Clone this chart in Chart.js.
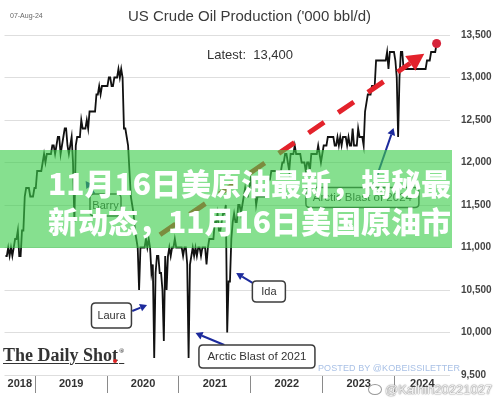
<!DOCTYPE html>
<html>
<head>
<meta charset="utf-8">
<script src="https://cdn.jsdelivr.net/npm/chart.js@4"></script>
<style>
  html, body { margin: 0; padding: 0; background: #fff; }
  #wrap { position: relative; width: 499px; height: 400px; overflow: hidden;
          font-family: 'Liberation Sans', Arial, sans-serif; }
  #chart { position: absolute; left: 0; top: 0; }
  .stamp { position: absolute; left: 10px; top: 12px; font-size: 7px; color: #666; }
  .title { position: absolute; left: 0; top: 7px; width: 499px; text-align: center;
           font-size: 15px; color: #3a3a3a; }
  .latest { position: absolute; left: 207px; top: 47px; font-size: 13px; color: #333; white-space: pre; }
  .logo { position: absolute; left: 3px; top: 342px; line-height: 18px;
          font-family: 'Liberation Serif', 'DejaVu Serif', serif; font-weight: bold; font-size: 18px;
          color: #333; text-decoration: underline; text-decoration-thickness: 1px; text-underline-offset: 2px; }
  .logo sup { font-size: 7px; text-decoration: none; vertical-align: 8px; margin-left: 1px; }
  .logo-dot { position: absolute; left: 113px; top: 359px; width: 4px; height: 4px; border-radius: 2px; background: #d22; }
  .posted { position: absolute; left: 318px; top: 363px; font-size: 9px; color: #a9c1e6; letter-spacing: 0.1px; }
  .mark { position: absolute; left: 368px; top: 382px; font-size: 13px; color: rgba(255,255,255,0.9);
          text-shadow: 0 0 1px #8a8a8a, 0 0 1px #8a8a8a, 0 0 2px #aaa; white-space: nowrap; }
  .mark .eye { display: inline-block; width: 12px; height: 9px; border: 1.5px solid #9a9a9a; border-radius: 50%;
               vertical-align: -1px; margin-right: 3px; background: rgba(255,255,255,0.8); }
  .banner { position: absolute; left: 0; top: 150px; width: 452px; height: 98px;
            background: rgba(60, 205, 75, 0.62); }
  .banner-text { position: absolute; left: 0; top: 163px; width: 499px; text-align: center; color: #fff;
                 font-family: 'Noto Sans CJK SC', sans-serif; font-weight: 900; font-size: 30px;
                 line-height: 38px; white-space: nowrap; }
</style>
</head>
<body>
<div id="wrap">
  <canvas id="chart" width="499" height="400"></canvas>
  <div class="stamp">07-Aug-24</div>
  <div class="title">US Crude Oil Production ('000 bbl/d)</div>
  <div class="latest" id="latest"></div>
  <div class="logo">The Daily Shot<sup>®</sup></div>
  <div class="logo-dot"></div>
  <div class="posted">POSTED BY @KOBEISSILETTER</div>
  <div class="mark"><span class="eye"></span>@Kaihin20221027</div>
  <div class="banner"></div>
  <div class="banner-text">11月16日美原油最新，揭秘最<br>新动态，11月16日美国原油市</div>
</div>
<script>
// Weekly US crude oil production, thousand barrels per day.
// Each yearly array starts on the week-ending date listed in seriesStart.
const seriesStart = ['2018-08-03', '2019-01-04', '2020-01-03', '2021-01-01', '2022-01-07', '2023-01-06', '2024-01-05'];

const weekly2018 = [10900, 10900, 11000, 10900, 11000, 10900, 11000, 11100, 11100, 11200, 10900,
                    10900, 11200, 11200, 11600, 11700, 11700, 11700, 11600, 11600, 11600, 11700];

const weekly2019 = [11700, 11900, 11900, 11900, 11900, 12000, 12100, 12000, 12100, 12100, 12100, 12100, 12200,
                    12200, 12100, 12200, 12300, 12300, 12100, 12200, 12300, 12400, 12400, 12200, 12100, 12200,
                    12300, 12000, 11300, 12200, 12300, 12300, 12300, 12500, 12400, 12400, 12400, 12500, 12400,
                    12600, 12600, 12600, 12600, 12600, 12800, 12800, 12900, 12800, 12900, 12900, 12900, 12900];

const weekly2020 = [12900, 13000, 13000, 12900, 12900, 13000, 13000, 13000, 13100, 13000, 13100, 13000, 12400,
                    12400, 12300, 12200, 11900, 11600, 11500, 11400, 11200, 11100, 11000, 10500, 11000, 11000,
                    11000, 11000, 11100, 11000, 11100, 11000, 10700, 10800, 9700, 10700, 10900, 10900, 10700,
                    10700, 10500, 9900, 10900, 10500, 10900, 11000, 10900, 11000, 11000, 11100, 11000, 11000];

const weekly2021 = [11000, 11000, 11000, 10900, 11000, 11000, 10800, 9700, 10800, 10900, 11000, 10900, 11000,
                    10900, 11000, 11000, 10900, 11000, 11000, 11000, 10800, 11000, 11100, 11100, 11100, 11100,
                    11300, 11300, 11400, 11200, 11200, 11300, 11400, 11400, 11500, 10000, 10600, 10600, 11100,
                    11300, 11400, 11300, 11300, 11500, 11500, 11400, 11500, 11600, 11700, 11600, 11600, 11700, 11800];

const weekly2022 = [11700, 11700, 11700, 11500, 11600, 11600, 11600, 11600, 11600, 11600, 11600, 11700, 11800,
                    11800, 11900, 11900, 11900, 11900, 11900, 11900, 11900, 11900, 12000, 12000, 12100, 12100,
                    12000, 11900, 12100, 12100, 12100, 12200, 12100, 12100, 12100, 12100, 12000, 12000, 12000,
                    11900, 12000, 12000, 11900, 12100, 12100, 12100, 12100, 12100, 12200, 12100, 12000, 12100];

const weekly2023 = [12200, 12200, 12200, 12300, 12300, 12300, 12300, 12300, 12200, 12200, 12300, 12200, 12300,
                    12200, 12300, 12300, 12300, 12200, 12300, 12200, 12200, 12400, 12200, 12200, 12200, 12400,
                    12300, 12300, 12300, 12200, 12600, 12700, 12800, 12800, 12800, 12900, 12900, 12900, 13200,
                    13200, 13200, 13200, 13200, 13200, 13200, 13200, 13300, 13100, 13300, 13300, 13300, 13300];

const weekly2024 = [13200, 13000, 12300, 13000, 13300, 13300, 13100, 13100, 13100, 13100, 13100, 13100, 13100,
                    13100, 13100, 13100, 13100, 13100, 13100, 13100, 13100, 13100, 13100, 13200, 13200, 13200,
                    13300, 13300, 13300, 13300, 13400];

const weeklyByYear = [weekly2018, weekly2019, weekly2020, weekly2021, weekly2022, weekly2023, weekly2024];

// Axis labels
const yearLabels = ['2018', '2019', '2020', '2021', '2022', '2023', '2024'];
const yTickValues = [9500, 10000, 10500, 11000, 11500, 12000, 12500, 13000, 13500];

// Trend arrow (decimal year, kb/d)
const trendFrom = [2020.736, 11150];
const trendTo = [2024.413, 13280];

// Event call-outs
const noteTexts = ['Barry', 'Laura', 'Arctic Blast of 2021', 'Ida', 'Arctic Blast of 2024'];

// Call-out placement in data units: box centre, box size in px, arrow tail -> head
const noteLayout = [
  { at: [2019.978, 11500], w: 31, h: 22, from: [2019.826, 11629], to: [2019.702, 11782] },
  { at: [2020.061, 10200], w: 40, h: 25, from: [2020.350, 10253], to: [2020.556, 10324] },
  { at: [2022.085, 9718],  w: 116, h: 23, from: [2021.631, 9853], to: [2021.231, 9994] },
  { at: [2022.251, 10482], w: 33, h: 21, from: [2022.030, 10582], to: [2021.796, 10700] },
  { at: [2023.552, 11588], w: 113, h: 20, from: [2023.697, 11700], to: [2023.986, 12406] }
];

// Visible time window (decimal years)
const X_MIN = 2018.573;
const X_MAX = 2024.771;

function decimalYear(y, m, d) {
  const t = Date.UTC(y, m, d);
  const dt = new Date(t);
  const yy = dt.getUTCFullYear();
  const a = Date.UTC(yy, 0, 1), b = Date.UTC(yy + 1, 0, 1);
  return yy + (t - a) / (b - a);
}

const points = [];
weeklyByYear.forEach((vals, k) => {
  const [y, m, d] = seriesStart[k].split('-').map(Number);
  vals.forEach((v, i) => points.push({ x: decimalYear(y, m - 1, d + 7 * i), y: v }));
});
const lastValue = points[points.length - 1].y;
document.getElementById('latest').textContent = 'Latest:  ' + lastValue.toLocaleString('en-US');

// Tick positions: year boundaries carry the separators, band centres carry the labels
const firstYear = Number(yearLabels[0]);
const xTickValues = [];
yearLabels.forEach(lab => {
  const yr = Number(lab);
  const lo = Math.max(yr, X_MIN), hi = Math.min(yr + 1, X_MAX);
  if (yr > firstYear) xTickValues.push(yr);
  xTickValues.push((lo + hi) / 2);
});

function arrow(ctx, a, b, head, half) {
  const ang = Math.atan2(b[1] - a[1], b[0] - a[0]);
  const base = [b[0] - head * Math.cos(ang), b[1] - head * Math.sin(ang)];
  ctx.beginPath();
  ctx.moveTo(a[0], a[1]);
  ctx.lineTo(base[0], base[1]);
  ctx.stroke();
  ctx.setLineDash([]);
  ctx.beginPath();
  ctx.moveTo(b[0], b[1]);
  ctx.lineTo(base[0] + half * Math.sin(ang), base[1] - half * Math.cos(ang));
  ctx.lineTo(base[0] - half * Math.sin(ang), base[1] + half * Math.cos(ang));
  ctx.closePath();
  ctx.fill();
}

function roundBox(ctx, x, y, w, h, r) {
  ctx.beginPath();
  ctx.moveTo(x + r, y);
  ctx.lineTo(x + w - r, y);
  ctx.quadraticCurveTo(x + w, y, x + w, y + r);
  ctx.lineTo(x + w, y + h - r);
  ctx.quadraticCurveTo(x + w, y + h, x + w - r, y + h);
  ctx.lineTo(x + r, y + h);
  ctx.quadraticCurveTo(x, y + h, x, y + h - r);
  ctx.lineTo(x, y + r);
  ctx.quadraticCurveTo(x, y, x + r, y);
  ctx.closePath();
}

const calloutPlugin = {
  id: 'callouts',
  afterDatasetsDraw(chart) {
    const { ctx, scales: { x, y } } = chart;
    const px = p => [x.getPixelForValue(p[0]), y.getPixelForValue(p[1])];
    ctx.save();

    // dashed red trend arrow
    ctx.strokeStyle = '#e3222b';
    ctx.fillStyle = '#e3222b';
    ctx.lineWidth = 5;
    ctx.setLineDash([19, 17]);
    arrow(ctx, px(trendFrom), px(trendTo), 17, 9);

    // call-out boxes with blue pointers
    noteLayout.forEach((n, i) => {
      ctx.strokeStyle = '#1c2a9c';
      ctx.fillStyle = '#1c2a9c';
      ctx.lineWidth = 2;
      arrow(ctx, px(n.from), px(n.to), 7, 4);

      const c = px(n.at);
      roundBox(ctx, c[0] - n.w / 2, c[1] - n.h / 2, n.w, n.h, 4);
      ctx.fillStyle = '#fff';
      ctx.fill();
      ctx.strokeStyle = '#3c3c3c';
      ctx.lineWidth = 1.5;
      ctx.stroke();
      ctx.fillStyle = '#333';
      ctx.font = (n.w > 100 ? '11.5px' : '11px') + " 'Liberation Sans', Arial, sans-serif";
      ctx.textAlign = 'center';
      ctx.textBaseline = 'middle';
      ctx.fillText(noteTexts[i], c[0], c[1] + 0.5);
    });
    ctx.restore();
  }
};

Chart.defaults.font.family = "'Liberation Sans', Arial, sans-serif";

new Chart(document.getElementById('chart'), {
  type: 'line',
  data: {
    datasets: [{
      data: points,
      borderColor: '#111',
      borderWidth: 1.8,
      tension: 0,
      pointRadius: c => (c.dataIndex === points.length - 1 ? 4.5 : 0),
      pointBackgroundColor: '#d6243a',
      pointBorderWidth: 0,
      pointHoverRadius: 0
    }]
  },
  options: {
    responsive: false,
    animation: false,
    events: [],
    layout: { padding: { top: 35, left: 0, right: 0, bottom: 0 } },
    plugins: { legend: { display: false }, tooltip: { enabled: false }, title: { display: false } },
    scales: {
      x: {
        type: 'linear',
        position: 'bottom',
        min: X_MIN,
        max: X_MAX,
        afterBuildTicks(axis) { axis.ticks = xTickValues.map(v => ({ value: v })); },
        afterFit(axis) { axis.height = 25; },
        border: { display: false },
        grid: {
          drawOnChartArea: false,
          drawTicks: true,
          tickLength: 18,
          tickWidth: 1,
          tickColor: c => (c.tick && Number.isInteger(c.tick.value) ? '#8a8a8a' : 'rgba(0,0,0,0)')
        },
        ticks: {
          autoSkip: false,
          maxRotation: 0,
          padding: -16,
          color: '#333',
          font: { size: 11, weight: 'bold' },
          callback: v => (Number.isInteger(v) ? '' : yearLabels[Math.floor(v) - firstYear])
        }
      },
      y: {
        position: 'right',
        min: yTickValues[0],
        max: yTickValues[yTickValues.length - 1],
        afterBuildTicks(axis) { axis.ticks = yTickValues.map(v => ({ value: v })); },
        afterFit(axis) { axis.width = 49; },
        border: { display: false },
        grid: { color: '#dedede', lineWidth: 1, drawTicks: false },
        ticks: {
          padding: 11,
          color: '#444',
          font: { size: 10, weight: 'bold' },
          callback: v => v.toLocaleString('en-US')
        }
      }
    }
  },
  plugins: [calloutPlugin]
});
</script>
</body>
</html>
